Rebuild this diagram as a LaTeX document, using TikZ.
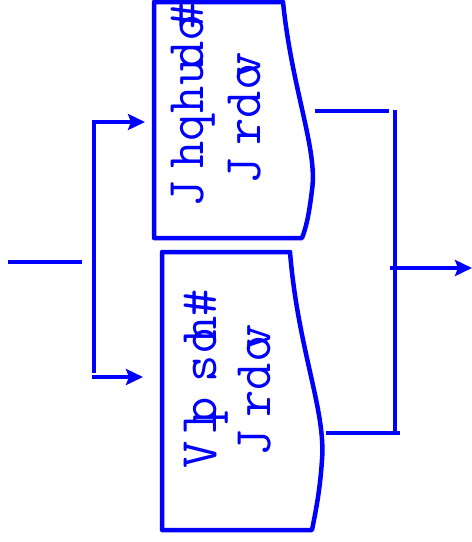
\documentclass[tikz,border=0pt]{standalone}
\usepackage{fontspec}
\newfontfamily\propfont{Liberation Sans}
\usetikzlibrary{arrows.meta, positioning}
\definecolor{cblue}{HTML}{0000FF}
% one glyph, advanced by the width of another letter
\newcommand\gl[2]{%
  \setbox0\hbox{\fontsize{50}{50}\selectfont\propfont #1}\makebox[\wd0][l]{#2}}

\begin{document}
\begin{tikzpicture}[
  x=1pt, y=-1pt,
  wire/.style={draw=cblue, line width=4pt},
  arrowB/.style={wire, -{Stealth[length=17pt, width=16pt, inset=3pt]}},
  docbox/.style={draw=cblue, line width=4.5pt, line join=round, fill=white},
  goal/.style={
    text=cblue, font=\fontsize{53}{53}\selectfont\ttfamily,
    rotate=90, anchor=base west, inner sep=0pt
  }
]
\useasboundingbox (0,0) rectangle (472,542);

% ============================================================
% The two goal documents, wavy edge on the right.
\draw[docbox] (154,2) -- (283,2)
  .. controls (292,90) and (318,150) .. (312,190)
  .. controls (309,215) and (306,228) .. (302,238)
  -- (154,238) -- cycle;
\draw[docbox] (162,252) -- (290,252)
  .. controls (298,350) and (326,410) .. (322,460)
  .. controls (320,490) and (316,510) .. (312,530)
  -- (162,530) -- cycle;

\node[goal] (gen1) at (203,208)
  {\gl{G}{J}\gl{e}{h}\gl{n}{q}\gl{e}{h}\gl{r}{u}\gl{a}{d}\gl{l}{o}\gl{\ }{\#}};
\node[goal] (gen2) at (260,185)
  {\gl{G}{J}\gl{o}{r}\gl{a}{d}\gl{l}{o}\gl{s}{v}};
\node[goal] (sim1) at (216,469)
  {\gl{S}{V}\gl{i}{l}\gl{m}{p}\gl{p}{s}\gl{l}{o}\gl{e}{h}\gl{\ }{\#}};
\node[goal] (sim2) at (270,457)
  {\gl{G}{J}\gl{o}{r}\gl{a}{d}\gl{l}{o}\gl{s}{v}};

% ============================================================
% Input side: split into both documents.
\coordinate (inA) at (8,262);
\coordinate (inB) at (82,262);
\coordinate (splitT) at (94,122);
\coordinate (splitB) at (94,377);
\coordinate (genIn) at (145,122);
\coordinate (simIn) at (143,377);

\draw[wire] (inA) -- (inB);
\draw[wire] ([yshift=-2pt]splitT) -- ([yshift=4pt]splitB);
\draw[arrowB] ([xshift=-2pt]splitT) -- (genIn);
\draw[arrowB] ([xshift=-2pt]splitB) -- (simIn);

% ============================================================
% Output side: join and leave to the right.
\coordinate (genOut) at (315,111);
\coordinate (simOut) at (326,433);
\coordinate (joinT) at (395,111);
\coordinate (joinB) at (395,433);
\coordinate (joinM) at (390,268);
\coordinate (outEnd) at (472,268);

\draw[wire] (genOut) -- ([xshift=-6pt]joinT);
\draw[wire] ([yshift=1pt]joinT) -- (joinB);
\draw[wire] (simOut) -- ([xshift=5pt]joinB);
\draw[arrowB] (joinM) -- (outEnd);

\end{tikzpicture}
\end{document}
